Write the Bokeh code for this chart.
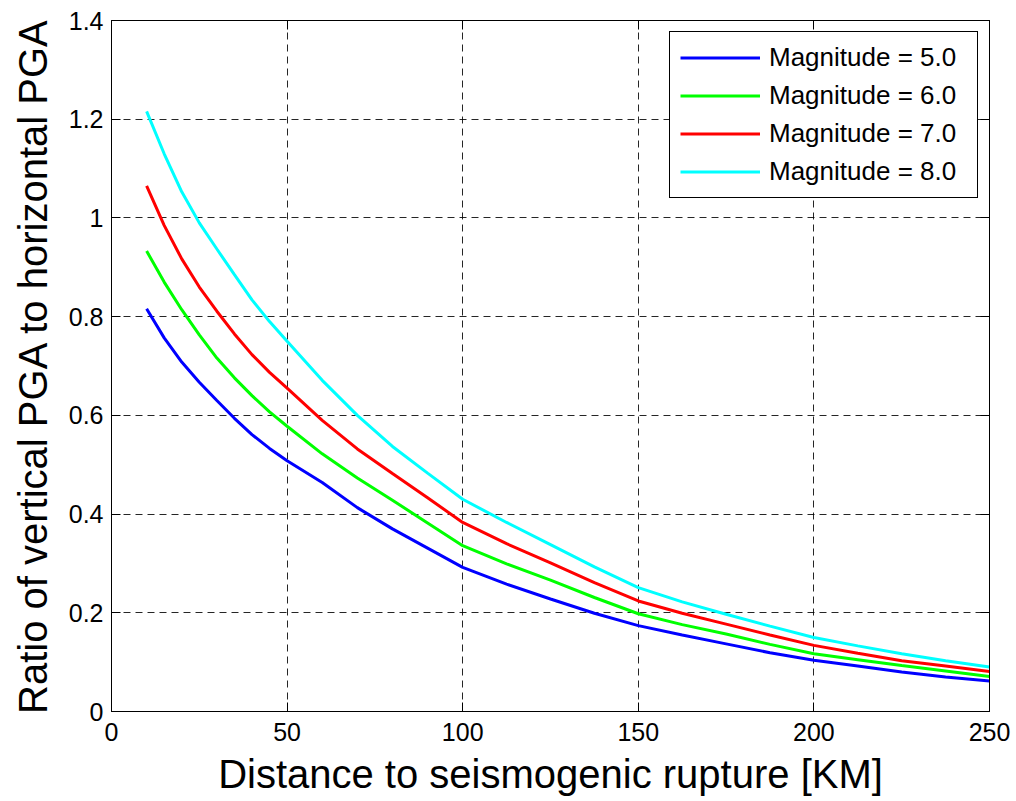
from bokeh.plotting import figure
from bokeh.models import Range1d, LinearAxis, FixedTicker, Legend, LegendItem, CustomLabelingPolicy
from bokeh.embed import file_html
from bokeh.resources import INLINE

# ---- data ----
distance = [10, 15, 20, 25, 30, 35, 40, 45, 50, 60, 70, 80, 90, 100,
            112.5, 125, 137.5, 150, 162.5, 175, 187.5, 200, 212.5, 225, 237.5, 250]
mag5 = [0.816, 0.757, 0.708, 0.667, 0.630, 0.594, 0.561, 0.533, 0.508, 0.464, 0.413, 0.370, 0.331, 0.292,
        0.258, 0.228, 0.199, 0.174, 0.155, 0.137, 0.119, 0.104, 0.092, 0.080, 0.070, 0.062]
mag6 = [0.933, 0.870, 0.814, 0.763, 0.716, 0.676, 0.640, 0.607, 0.578, 0.522, 0.473, 0.428, 0.382, 0.336,
        0.299, 0.266, 0.231, 0.198, 0.176, 0.157, 0.136, 0.117, 0.105, 0.093, 0.082, 0.071]
mag7 = [1.065, 0.985, 0.917, 0.860, 0.811, 0.765, 0.723, 0.687, 0.655, 0.590, 0.532, 0.482, 0.433, 0.383,
        0.340, 0.301, 0.261, 0.224, 0.199, 0.177, 0.155, 0.134, 0.118, 0.103, 0.092, 0.081]
mag8 = [1.216, 1.130, 1.053, 0.990, 0.937, 0.885, 0.834, 0.790, 0.750, 0.671, 0.600, 0.537, 0.483, 0.430,
        0.383, 0.338, 0.293, 0.251, 0.222, 0.197, 0.173, 0.150, 0.133, 0.117, 0.103, 0.090]
series_labels = ["Magnitude = 5.0", "Magnitude = 6.0", "Magnitude = 7.0", "Magnitude = 8.0"]
series_colors = ["#0000ff", "#00ff00", "#ff0000", "#00ffff"]
x_ticks = [0, 50, 100, 150, 200, 250]
y_ticks = [0, 0.2, 0.4, 0.6, 0.8, 1.0, 1.2, 1.4]
y_tick_labels = ["0", "0.2", "0.4", "0.6", "0.8", "1", "1.2", "1.4"]

FONT = "Liberation Sans"

p = figure(width=1016, height=801, output_backend="svg", toolbar_location=None,
           x_range=Range1d(0, 250), y_range=Range1d(0, 1.4),
           min_border_left=111, min_border_right=27, min_border_top=20, min_border_bottom=90,
           x_axis_label="Distance to seismogenic rupture [KM]",
           y_axis_label="Ratio of vertical PGA to horizontal PGA")
p.background_fill_color = "white"
p.border_fill_color = "white"
p.outline_line_color = "black"
p.outline_line_width = 1

renderers = []
for ys, c in zip([mag5, mag6, mag7, mag8], series_colors):
    r = p.line(distance, ys, line_color=c, line_width=3)
    renderers.append(r)

# grid
for g in (p.xgrid[0], p.ygrid[0]):
    g.grid_line_color = "black"
    g.grid_line_alpha = 0.85
    g.grid_line_dash = "7 5"
    g.grid_line_width = 1
p.xgrid[0].ticker = FixedTicker(ticks=x_ticks)
p.ygrid[0].ticker = FixedTicker(ticks=y_ticks)

def style_axis(ax):
    ax.axis_line_color = "black"
    ax.major_tick_line_color = "black"
    ax.major_tick_in = 9
    ax.major_tick_out = 0
    ax.minor_tick_line_color = None
    ax.major_label_text_font = FONT
    ax.major_label_text_color = "black"
    ax.major_label_text_font_size = "25px"
    ax.axis_label_text_font = FONT
    ax.axis_label_text_font_style = "normal"
    ax.axis_label_text_color = "black"
    ax.axis_label_text_font_size = "40px"

xa = p.xaxis[0]
xa.ticker = FixedTicker(ticks=x_ticks)
style_axis(xa)
xa.major_label_standoff = 11
xa.axis_label_standoff = 8

ya = p.yaxis[0]
ya.ticker = FixedTicker(ticks=y_ticks)
ya.major_label_overrides = {t: s for t, s in zip(y_ticks, y_tick_labels)}
style_axis(ya)
ya.major_label_standoff = 8
ya.axis_label_standoff = 11

# frame ticks on top and right (MATLAB box), without labels
no_labels = """
for (const i of indices)
    indices.unset(i)
return indices
"""
top = LinearAxis(ticker=FixedTicker(ticks=x_ticks))
style_axis(top)
top.major_label_policy = CustomLabelingPolicy(code=no_labels)
top.major_label_text_font_size = "0px"
top.major_label_standoff = 0
p.add_layout(top, "above")
right = LinearAxis(ticker=FixedTicker(ticks=y_ticks))
style_axis(right)
right.major_label_policy = CustomLabelingPolicy(code=no_labels)
right.major_label_text_font_size = "0px"
right.major_label_standoff = 0
p.add_layout(right, "right")

legend = Legend(items=[LegendItem(label=l, renderers=[r]) for l, r in zip(series_labels, renderers)],
                location="top_right")
legend.margin = 11
legend.padding = 10
legend.spacing = 7
legend.label_height = 29
legend.glyph_height = 29
legend.glyph_width = 80
legend.label_width = 198
legend.label_standoff = 9
legend.label_text_font = FONT
legend.label_text_font_size = "26px"
legend.label_text_color = "black"
legend.border_line_color = "black"
legend.border_line_width = 1
legend.border_line_alpha = 1
legend.background_fill_color = "white"
legend.background_fill_alpha = 1
p.add_layout(legend)

open("out.html", "w").write(file_html(p, INLINE))
